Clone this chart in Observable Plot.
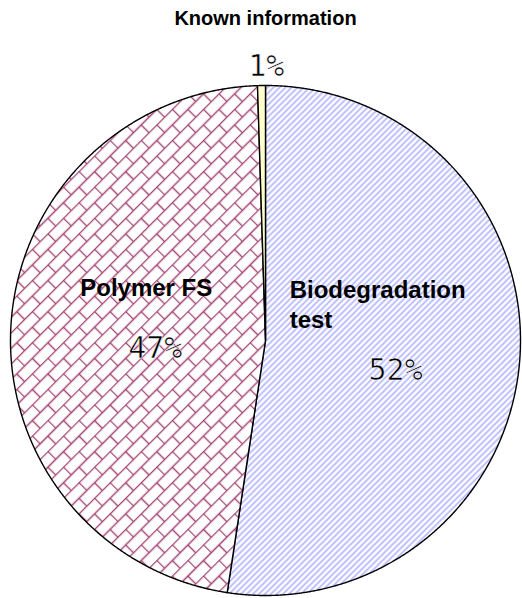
<!DOCTYPE html>
<html>
<head>
<meta charset="utf-8">
<script src="https://cdn.jsdelivr.net/npm/d3@7"></script>
<script src="https://cdn.jsdelivr.net/npm/@observablehq/plot@0.6"></script>
<style>
  html, body { margin: 0; padding: 0; background: #fff; }
</style>
</head>
<body>
<div id="chart"></div>
<script>
// ---- data ----
const title = "Known information";
const categories = ["Biodegradation test", "Polymer FS", "Other"];
const values = [52.4, 47.1, 0.5];
const nameLabels = ["Biodegradation\ntest", "Polymer FS", ""];
const percentLabels = ["52%", "47%", "1%"];

// ---- layout / style ----
const W = 522, H = 598;
const cx = 265, cy = 340, R = 255;
const fills = ["url(#hatchBlue)", "url(#brick)", "#ffffcc"];
const pctLayout = [
  {k: 0.5, dx: 3, dy: 20},
  {k: 0.5, dx: 17, dy: 15},
  {k: 1.075, dx: 5, dy: 0}
];
const nameLayout = [
  {k: 0.5, dx: -103, dy: -47, anchor: "start"},
  {k: 0.5, dx: 8, dy: -47, anchor: "middle"},
  {k: 0.5, dx: 0, dy: 0, anchor: "middle"}
];

const rows = categories.map((c, i) => ({category: c, value: values[i], name: nameLabels[i], pct: percentLabels[i], i}));
const arcs = d3.pie().sort(null).value(d => d.value)(rows);

const slicePts = arcs.flatMap(a => {
  const cat = a.data.category;
  const span = a.endAngle - a.startAngle;
  const n = Math.max(2, Math.ceil(span / 0.004));
  const pts = [{x: cx, y: cy, cat}];
  for (let j = 0; j <= n; j++) {
    const t = a.startAngle + span * j / n;
    pts.push({x: cx + R * Math.sin(t), y: cy - R * Math.cos(t), cat});
  }
  pts.push({x: cx, y: cy, cat});
  return pts;
});

const labelPos = (a, k) => {
  const m = (a.startAngle + a.endAngle) / 2;
  return {x: cx + R * k * Math.sin(m), y: cy - R * k * Math.cos(m)};
};

const marks = [
  Plot.line(slicePts, {x: "x", y: "y", z: "cat", fill: "cat", stroke: "black", strokeWidth: 1.4, strokeLinejoin: "round", curve: "linear"}),
  Plot.text([title], {frameAnchor: "top", dx: 4, dy: 18, lineAnchor: "middle", fontFamily: "Liberation Sans, Arial, sans-serif", fontWeight: "bold", fontSize: 20, fill: "black"})
];

arcs.forEach((a, i) => {
  const pl = pctLayout[i], p = labelPos(a, pl.k);
  marks.push(Plot.text([{...p, t: a.data.pct}], {
    x: "x", y: "y", text: "t", dx: pl.dx, dy: pl.dy,
    fontFamily: "DejaVu Sans Mono, monospace", fontSize: 30,
    fill: "black", stroke: "white", strokeWidth: 0.6, paintOrder: "fill"
  }));
  const nl = nameLayout[i], q = labelPos(a, nl.k);
  if (a.data.name) {
    marks.push(Plot.text([{...q, t: a.data.name}], {
      x: "x", y: "y", text: "t", dx: nl.dx, dy: nl.dy, textAnchor: nl.anchor,
      fontFamily: "Liberation Sans, Arial, sans-serif", fontWeight: "bold", fontSize: 24,
      lineHeight: 1.25, fill: "black"
    }));
  }
});

const svg = Plot.plot({
  width: W, height: H, margin: 0,
  style: {background: "white", overflow: "visible"},
  x: {domain: [0, W], range: [0, W], axis: null},
  y: {domain: [0, H], range: [0, H], axis: null},
  color: {type: "ordinal", domain: categories, range: fills},
  marks
});

svg.insertAdjacentHTML("afterbegin", `
<defs>
  <pattern id="hatchBlue" patternUnits="userSpaceOnUse" width="6" height="6">
    <rect width="6" height="6" fill="white"/>
    <path d="M-1,1 L1,-1 M0,6 L6,0 M5,7 L7,5" stroke="#9ea2ff" stroke-width="1.3"/>
  </pattern>
  <pattern id="brick" patternUnits="userSpaceOnUse" width="22" height="22" patternTransform="rotate(-45)">
    <rect width="22" height="22" fill="white"/>
    <path d="M0,0.5 H22 M0,11.5 H22 M0.5,0 V11.5 M11.5,11.5 V22" stroke="#a34474" stroke-width="1.4" fill="none"/>
  </pattern>
</defs>`);

document.getElementById("chart").appendChild(svg);
</script>
</body>
</html>
